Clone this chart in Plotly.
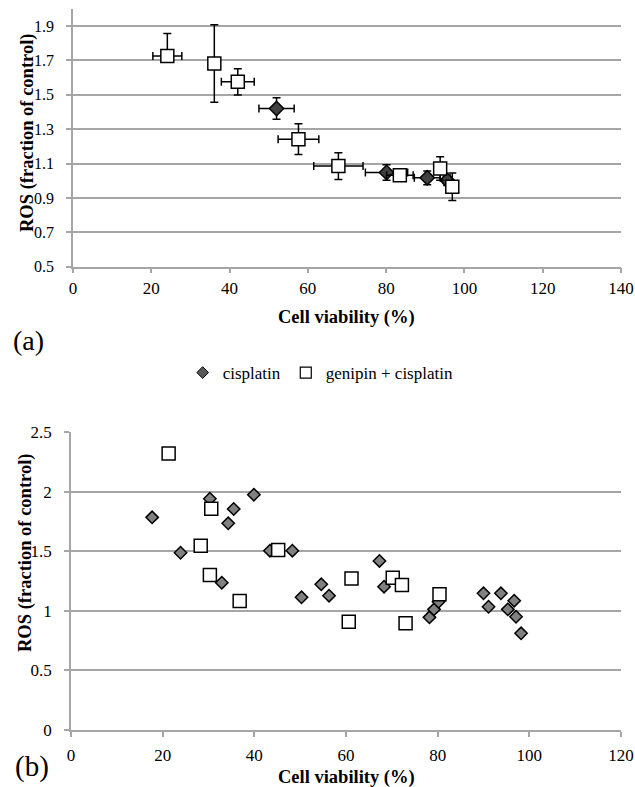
import plotly.graph_objects as go

# ---- Panel (a) data ----
a_cis_x = [52.0, 80.1, 90.5, 95.6]
a_cis_xerr = [4.5, 5.4, 3.3, 1.0]
a_cis_y = [1.42, 1.048, 1.017, 1.003]
a_cis_yerr = [0.063, 0.045, 0.04, 0.03]

a_gen_x = [24.1, 36.1, 42.1, 57.6, 67.8, 83.5, 93.8, 96.9]
a_gen_xerr = [3.7, 0.8, 4.2, 5.2, 6.3, 3.4, 1.2, 1.0]
a_gen_y = [1.726, 1.682, 1.575, 1.242, 1.085, 1.032, 1.071, 0.965]
a_gen_yerr_plus = [0.13, 0.225, 0.077, 0.089, 0.078, 0.02, 0.068, 0.08]
a_gen_yerr_minus = [0.02, 0.225, 0.077, 0.089, 0.078, 0.02, 0.068, 0.08]

# ---- Panel (b) data ----
b_cis_x = [17.7, 23.9, 30.3, 32.9, 34.3, 35.5, 39.9, 43.4, 48.3, 50.3, 54.6, 56.3,
           67.3, 68.3, 78.2, 79.2, 80.2, 90.0, 91.1, 93.8, 95.3, 96.7, 97.1, 98.2]
b_cis_y = [1.784, 1.487, 1.94, 1.236, 1.734, 1.854, 1.974, 1.504, 1.504, 1.113, 1.222, 1.127,
           1.418, 1.202, 0.945, 1.012, 1.076, 1.147, 1.034, 1.147, 1.012, 1.085, 0.95, 0.811]

b_gen_x = [21.3, 28.3, 30.3, 30.6, 36.8, 45.2, 60.6, 61.2, 70.2, 72.2, 73.0, 80.4]
b_gen_y = [2.32, 1.546, 1.30, 1.857, 1.082, 1.51, 0.909, 1.27, 1.278, 1.216, 0.895, 1.138]

a_xticks = [0, 20, 40, 60, 80, 100, 120, 140]
a_yticks = [0.5, 0.7, 0.9, 1.1, 1.3, 1.5, 1.7, 1.9]
b_xticks = [0, 20, 40, 60, 80, 100, 120]
b_yticks = [0, 0.5, 1, 1.5, 2, 2.5]

FONT = "'Liberation Serif', 'DejaVu Serif', serif"
GRID = "#a6a6a6"

fig = go.Figure()

err_style = dict(color="black", thickness=1.5, width=4)

fig.add_trace(go.Scatter(
    x=a_cis_x, y=a_cis_y, mode="markers", xaxis="x", yaxis="y", showlegend=False,
    marker=dict(symbol="diamond", size=11, color="#404040", line=dict(color="black", width=1.5)),
    error_x=dict(type="data", array=a_cis_xerr, **err_style),
    error_y=dict(type="data", array=a_cis_yerr, **err_style),
))
fig.add_trace(go.Scatter(
    x=a_gen_x, y=a_gen_y, mode="markers", xaxis="x", yaxis="y", showlegend=False,
    marker=dict(symbol="square", size=13, color="white", line=dict(color="black", width=1.5)),
    error_x=dict(type="data", array=a_gen_xerr, **err_style),
    error_y=dict(type="data", symmetric=False, array=a_gen_yerr_plus,
                 arrayminus=a_gen_yerr_minus, **err_style),
))

# legend-only entries
fig.add_trace(go.Scatter(
    x=[None], y=[None], mode="markers", xaxis="x", yaxis="y", name="cisplatin",
    marker=dict(symbol="diamond", size=9, color="#595959", line=dict(color="black", width=1)),
))
fig.add_trace(go.Scatter(
    x=[None], y=[None], mode="markers", xaxis="x", yaxis="y", name="genipin + cisplatin",
    marker=dict(symbol="square", size=11, color="white", line=dict(color="black", width=1.2)),
))

fig.add_trace(go.Scatter(
    x=b_cis_x, y=b_cis_y, mode="markers", xaxis="x2", yaxis="y2", showlegend=False,
    marker=dict(symbol="diamond", size=9.5, color="#808080", line=dict(color="black", width=1.5)),
))
fig.add_trace(go.Scatter(
    x=b_gen_x, y=b_gen_y, mode="markers", xaxis="x2", yaxis="y2", showlegend=False,
    marker=dict(symbol="square", size=13, color="white", line=dict(color="black", width=1.5)),
))

def axis_common(size):
    return dict(
        showline=True, linecolor=GRID, linewidth=1.5,
        ticks="outside", ticklen=5, tickcolor=GRID, tickwidth=1.5,
        tickfont=dict(family=FONT, size=size, color="black"),
        zeroline=False, automargin=False,
    )

W, H = 635, 787
fig.update_layout(
    width=W, height=H,
    margin=dict(l=0, r=0, t=0, b=0),
    paper_bgcolor="white", plot_bgcolor="white",
    font=dict(family=FONT, color="black"),
    xaxis=dict(domain=[73 / W, 621 / W], range=[0, 140], tickvals=a_xticks,
               showgrid=False, anchor="y", **axis_common(17)),
    yaxis=dict(domain=[1 - 266.7 / H, 1 - 8.8 / H], range=[0.5, 2.0], tickvals=a_yticks,
               ticktext=[f"{v:.1f}" for v in a_yticks], ticklabelstandoff=9,
               showgrid=True, gridcolor=GRID, gridwidth=1.5, anchor="x", **axis_common(16)),
    xaxis2=dict(domain=[71 / W, 621 / W], range=[0, 120], tickvals=b_xticks,
                ticklabelstandoff=4,
                showgrid=False, anchor="y2", **axis_common(17)),
    yaxis2=dict(domain=[1 - 730 / H, 1 - 432 / H], range=[0, 2.5], tickvals=b_yticks,
                ticktext=["0", "0.5", "1", "1.5", "2", "2.5"], ticklabelstandoff=9,
                showgrid=True, gridcolor=GRID, gridwidth=1.5, anchor="x2", **axis_common(17)),
    legend=dict(orientation="h", x=0.505, xanchor="center", y=1 - 373 / H, yanchor="middle",
                font=dict(family=FONT, size=17, color="black"), itemwidth=30,
                bgcolor="rgba(0,0,0,0)"),
    showlegend=True,
)

title_font = dict(family=FONT, size=18.5, color="black")
fig.add_annotation(text="<b>Cell viability (%)</b>", x=346.5 / W, y=1 - 317 / H,
                   xref="paper", yref="paper", showarrow=False, font=title_font,
                   xanchor="center", yanchor="middle")
fig.add_annotation(text="<b>ROS (fraction of control)</b>", x=27 / W, y=1 - 133 / H,
                   xref="paper", yref="paper", showarrow=False, font=title_font, textangle=-90,
                   xanchor="center", yanchor="middle")
fig.add_annotation(text="<b>Cell viability (%)</b>", x=346 / W, y=1 - 777 / H,
                   xref="paper", yref="paper", showarrow=False, font=title_font,
                   xanchor="center", yanchor="middle")
fig.add_annotation(text="<b>ROS (fraction of control)</b>", x=25 / W, y=1 - 553 / H,
                   xref="paper", yref="paper", showarrow=False, font=title_font, textangle=-90,
                   xanchor="center", yanchor="middle")
fig.add_annotation(text="(a)", x=28 / W, y=1 - 340 / H, xref="paper", yref="paper",
                   showarrow=False, font=dict(family=FONT, size=28, color="black"),
                   xanchor="center", yanchor="middle")
fig.add_annotation(text="(b)", x=32 / W, y=1 - 766 / H, xref="paper", yref="paper",
                   showarrow=False, font=dict(family=FONT, size=29, color="black"),
                   xanchor="center", yanchor="middle")

fig.write_html("out.html", config={"displayModeBar": False},
               post_script="document.body.style.margin='0';")
